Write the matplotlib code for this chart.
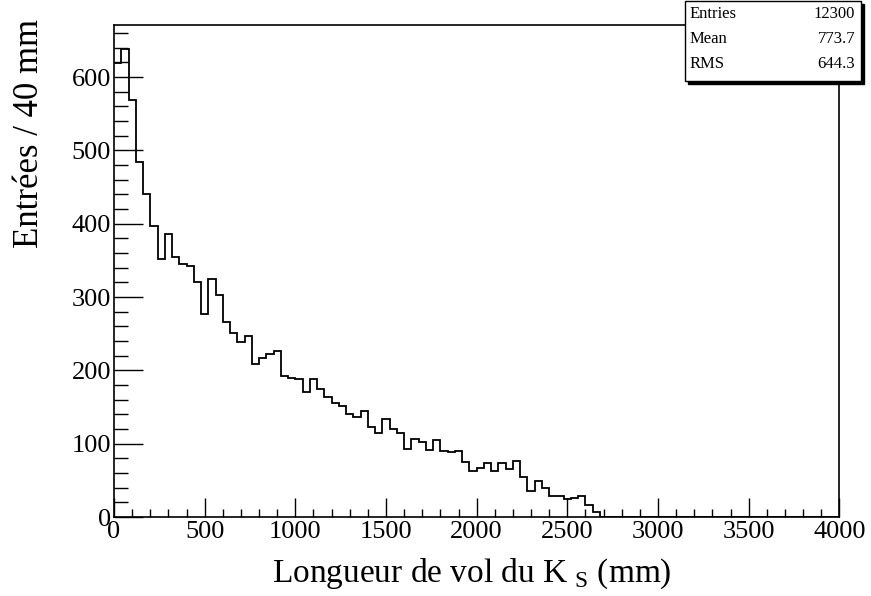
import numpy as np
import matplotlib
matplotlib.use("Agg")
import matplotlib.pyplot as plt
from matplotlib.patches import Rectangle

plt.rcParams['font.family'] = ['Liberation Serif', 'DejaVu Serif']
plt.rcParams['mathtext.fontset'] = 'custom'
plt.rcParams['mathtext.rm'] = 'Liberation Serif'

# bin contents, 40 mm bins starting at 0
counts = [619, 638, 569, 484, 440, 397, 352, 386, 354, 345,
          342, 320, 277, 325, 303, 266, 251, 238, 247, 208,
          217, 222, 227, 192, 190, 188, 170, 188, 174, 163,
          155, 151, 141, 137, 144, 123, 114, 133, 120, 114,
          93, 106, 102, 91, 105, 90, 89, 90, 75, 63,
          67, 74, 63, 74, 66, 76, 54, 35, 49, 39,
          29, 29, 25, 26, 28, 16, 7]
n_bins = 100
bin_width = 40
counts = counts + [0] * (n_bins - len(counts))
edges = np.arange(n_bins + 1) * bin_width

stat_names = ['Entries', 'Mean', 'RMS']
stat_values = ['12300', '773.7', '644.3']

fig = plt.figure(figsize=(8.71, 5.96), dpi=100)
ax = fig.add_axes([114/871, 1 - 517/596, 725.3/871, 492/596])

ax.stairs(counts, edges, baseline=None, color='black', lw=1.3)

ax.set_xlim(0, 4000)
ax.set_ylim(0, 671)
ax.set_xticks(np.arange(0, 4001, 500))
ax.set_xticks(np.arange(0, 4001, 100), minor=True)
ax.set_yticks(np.arange(0, 601, 100))
ax.set_yticks(np.arange(0, 661, 20), minor=True)

ax.tick_params(axis='both', which='both', direction='in', labelsize=19,
               top=False, right=False, width=1)
ax.tick_params(axis='y', which='major', length=21, pad=2)
ax.tick_params(axis='y', which='minor', length=10)
ax.tick_params(axis='x', which='major', length=14, pad=3)
ax.tick_params(axis='x', which='minor', length=6)
for s in ax.spines.values():
    s.set_linewidth(1.2)

ax.set_xlabel(r'Longueur de vol du K$_{\ \mathrm{S}}$ (mm)', fontsize=24, va='center')
ax.xaxis.set_label_coords(0.493, -0.115)
ax.set_ylabel('Entrées / 40 mm', fontsize=25, loc='top', va='center')
ax.yaxis.set_label_coords(-0.116, 1.012)

# stats box
bx0, by0, bw, bh = 685/871, 1 - 81/596, 176/871, 80/596
fig.patches.append(Rectangle((bx0 + 3/871, by0 - 3/596), bw, bh, transform=fig.transFigure,
                             facecolor='black', edgecolor='black', zorder=5))
fig.patches.append(Rectangle((bx0, by0), bw, bh, transform=fig.transFigure,
                             facecolor='white', edgecolor='black', lw=1, zorder=6))
for i, (nm, val) in enumerate(zip(stat_names, stat_values)):
    yy = 1 - (14 + i * 25) / 596
    fig.text(690/871, yy, nm, fontsize=12, va='center', ha='left', zorder=7)
    fig.text(855/871, yy, val, fontsize=12, va='center', ha='right', zorder=7)

plt.savefig('out.png', dpi=100)
